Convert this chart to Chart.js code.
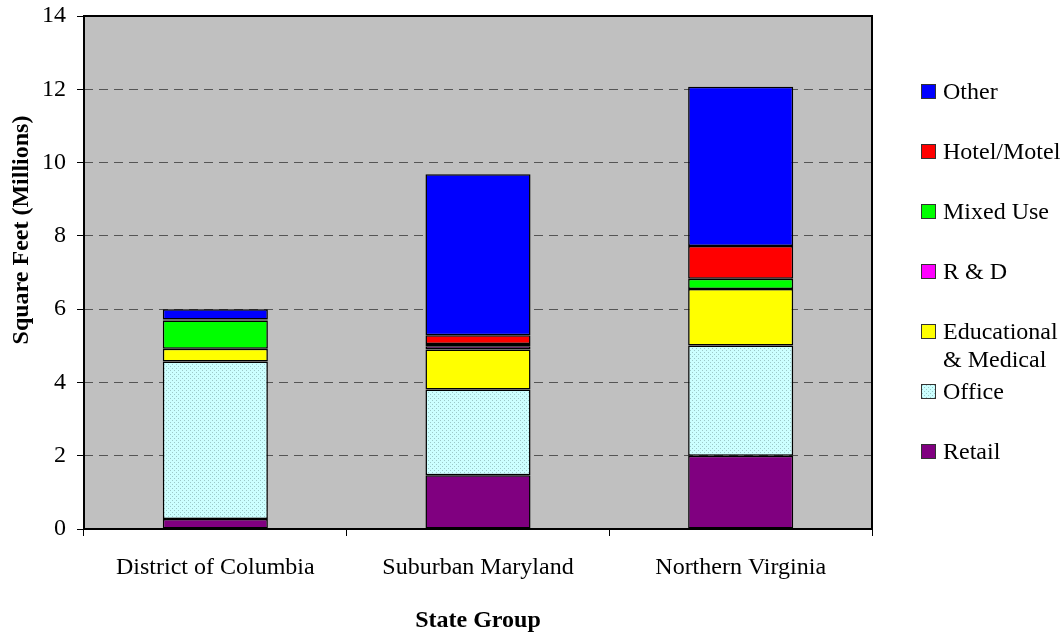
<!DOCTYPE html>
<html>
<head>
<meta charset="utf-8">
<script src="https://cdn.jsdelivr.net/npm/chart.js@4.4.0/dist/chart.umd.min.js"></script>
<style>
  html, body { margin: 0; padding: 0; background: #fff; }
  #wrap { position: relative; width: 1063px; height: 635px; }
  #legend { position: absolute; left: 0; top: 0; font-family: "Liberation Serif", "Times New Roman", serif; font-size: 24px; color: #000; }
  .sw { position: absolute; left: 921px; width: 13px; height: 13px; border: 1px solid #333; }
  .lbl { position: absolute; left: 943px; line-height: 28px; white-space: nowrap; }
</style>
</head>
<body>
<div id="wrap">
  <canvas id="c" width="1063" height="635"></canvas>
  <div id="legend"></div>
</div>
<script>
// Square footage by building type and state group (millions of sq ft)
const categories = ['District of Columbia', 'Suburban Maryland', 'Northern Virginia'];
const retail             = [0.27, 1.47, 2.00];
const office             = [4.30, 2.34, 3.01];
const educationalMedical = [0.35, 1.09, 1.54];
const researchDev        = [0.00, 0.09, 0.00];
const mixedUse           = [0.77, 0.06, 0.28];
const hotelMotel         = [0.03, 0.24, 0.89];
const other              = [0.28, 4.39, 4.35];
const seriesNames = ['Retail', 'Office', 'Educational\n& Medical', 'R & D', 'Mixed Use', 'Hotel/Motel', 'Other'];
const yTickStep = 2;
const yMax = 14;

const FONT = '"Liberation Serif", "Times New Roman", serif';

// Speckled light-cyan fill for the Office segments
function officePattern() {
  const t = document.createElement('canvas');
  t.width = 4; t.height = 4;
  const g = t.getContext('2d');
  g.fillStyle = '#CCFFFF';
  g.fillRect(0, 0, 4, 4);
  g.fillStyle = '#9CC8C8';
  g.fillRect(0, 0, 1, 1);
  g.fillRect(2, 2, 1, 1);
  return t;
}
const tile = officePattern();
const ctx0 = document.getElementById('c').getContext('2d');
const officeFill = ctx0.createPattern(tile, 'repeat');

const fills = ['#800080', officeFill, '#FFFF00', '#FF00FF', '#00FF00', '#FF0000', '#0000FF'];
const swatchCss = ['#800080', 'url(' + tile.toDataURL() + ')', '#FFFF00', '#FF00FF', '#00FF00', '#FF0000', '#0000FF'];
const values = [retail, office, educationalMedical, researchDev, mixedUse, hotelMotel, other];

const datasets = values.map((v, i) => ({
  label: seriesNames[i].replace('\n', ' '),
  data: v,
  backgroundColor: fills[i],
  borderColor: '#000',
  borderWidth: 1.5,
  borderSkipped: false,
  barPercentage: 0.4,
  categoryPercentage: 1.0
}));

// Grey plot background, black frame and rotated y-axis title
const plotDecor = {
  id: 'plotDecor',
  beforeDraw(chart) {
    const { ctx, chartArea: a } = chart;
    ctx.save();
    ctx.fillStyle = '#C0C0C0';
    ctx.fillRect(a.left, a.top, a.right - a.left, a.bottom - a.top);
    ctx.restore();
  },
  afterDraw(chart) {
    const { ctx, chartArea: a } = chart;
    ctx.save();
    ctx.strokeStyle = '#000';
    ctx.lineWidth = 2;
    ctx.strokeRect(a.left, a.top, a.right - a.left, a.bottom - a.top);
    ctx.translate(22, 230);
    ctx.rotate(-Math.PI / 2);
    ctx.fillStyle = '#000';
    ctx.font = 'bold 24px ' + FONT;
    ctx.textAlign = 'center';
    ctx.textBaseline = 'middle';
    ctx.fillText('Square Feet (Millions)', 0, 0);
    ctx.restore();
  }
};

new Chart(document.getElementById('c'), {
  type: 'bar',
  data: { labels: categories, datasets },
  plugins: [plotDecor],
  options: {
    responsive: false,
    animation: false,
    layout: { padding: { top: 16, right: 191, left: 0, bottom: 0 } },
    plugins: { legend: { display: false }, tooltip: { enabled: false } },
    scales: {
      x: {
        stacked: true,
        offset: true,
        grid: { offset: true, drawOnChartArea: false, tickLength: 7, color: '#000', lineWidth: 1 },
        border: { display: false },
        ticks: { color: '#000', font: { family: FONT, size: 24 }, padding: 17, maxRotation: 0, autoSkip: false },
        title: { display: true, text: 'State Group', color: '#000', font: { family: FONT, size: 24, weight: 'bold' }, padding: 0 },
        afterFit(s) { s.height = 106; s.paddingLeft = 0; s.paddingRight = 0; }
      },
      y: {
        stacked: true,
        min: 0,
        max: yMax,
        ticks: { stepSize: yTickStep, color: '#000', font: { family: FONT, size: 24 }, padding: 11 },
        grid: {
          color: c => (c.tick && (c.tick.value === 0 || c.tick.value === yMax)) ? 'rgba(0,0,0,0)' : '#555',
          tickColor: '#000',
          tickLength: 7,
          lineWidth: 1
        },
        border: { display: false, dash: [9, 6] },
        afterFit(s) { s.width = 84; s.paddingTop = 0; s.paddingBottom = 0; }
      }
    }
  }
});

// Legend, listed top-down from Other to Retail
const legend = document.getElementById('legend');
for (let k = 0; k < seriesNames.length; k++) {
  const i = seriesNames.length - 1 - k;
  const cy = 91 + 60 * k;
  const sw = document.createElement('div');
  sw.className = 'sw';
  sw.style.top = (cy - 7) + 'px';
  sw.style.background = swatchCss[i];
  legend.appendChild(sw);
  const lbl = document.createElement('div');
  lbl.className = 'lbl';
  lbl.style.top = (cy - 14) + 'px';
  lbl.innerHTML = seriesNames[i].split('\n').map(t => t.replace(/&/g, '&amp;')).join('<br>');
  legend.appendChild(lbl);
}
</script>
</body>
</html>
